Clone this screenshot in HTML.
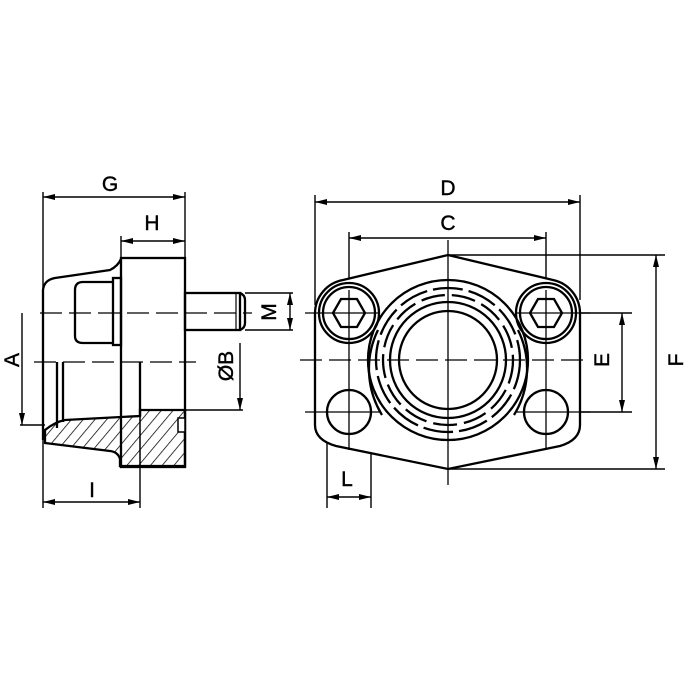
<!DOCTYPE html>
<html><head><style>html,body{margin:0;padding:0;background:#fff}svg{display:block}</style></head><body>
<svg width="700" height="700" viewBox="0 0 700 700" xmlns="http://www.w3.org/2000/svg" font-family="Liberation Sans, sans-serif">
<defs>
<pattern id="h" width="9" height="9" patternUnits="userSpaceOnUse" patternTransform="rotate(40)"><line x1="0" y1="0" x2="0" y2="9" stroke="#000" stroke-width="1.5"/></pattern>
<marker id="a" viewBox="0 0 12 6" refX="12" refY="3" markerWidth="12" markerHeight="6" markerUnits="userSpaceOnUse" orient="auto-start-reverse"><path d="M0,0 L12,3 L0,6 Z" fill="#000"/></marker>
</defs>
<g fill="none" stroke="#000">
<!-- LEFT VIEW -->
<g stroke-width="1.4">
<line x1="43" y1="192" x2="43" y2="508"/>
<line x1="185" y1="192" x2="185" y2="258"/>
<line x1="121" y1="236" x2="121" y2="258"/>
<line x1="43" y1="197" x2="185" y2="197" marker-start="url(#a)" marker-end="url(#a)"/>
<line x1="121" y1="241" x2="185" y2="241" marker-start="url(#a)" marker-end="url(#a)"/>
<line x1="140" y1="410" x2="140" y2="508"/>
<line x1="43" y1="502" x2="140" y2="502" marker-start="url(#a)" marker-end="url(#a)"/>
<line x1="22" y1="313" x2="22" y2="425" marker-end="url(#a)"/>
<line x1="20" y1="425" x2="45" y2="425"/>
<line x1="240" y1="343" x2="240" y2="410" marker-end="url(#a)"/>
<line x1="185" y1="410" x2="243" y2="410"/>
<line x1="245" y1="293" x2="293" y2="293"/>
<line x1="245" y1="330" x2="293" y2="330"/>
<line x1="290" y1="293" x2="290" y2="330" marker-start="url(#a)" marker-end="url(#a)"/>
</g>
<g stroke-width="2.3">
<rect x="121" y="258" width="64" height="209"/>
<path d="M43,440 L43,290 Q44,280 55,278 L110,270 Q118,266 121,259"/>
<path d="M113,282 L83,282 Q75,282 75,290 L75,336 Q75,343 83,343 L113,343"/>
<rect x="113" y="278" width="8" height="67"/>
<rect x="185" y="293" width="55" height="37"/>
<line x1="236" y1="293" x2="236" y2="330" stroke-width="1.2"/>
<path d="M240,293 Q245,295 245,300 L245,323 Q245,328 240,330"/>
<line x1="57" y1="362" x2="57" y2="428"/>
<line x1="63" y1="362" x2="63" y2="422"/>
<line x1="140" y1="362" x2="140" y2="416"/>
<path d="M45,430 Q55,422 65,420 L140,416 L140,410 L185,410 L185,466 L120,466 L120,459 Q118,452 110,451 L45,443 Z" fill="url(#h)"/>
<line x1="140" y1="410" x2="140" y2="466" stroke-width="1.2"/>
<rect x="178" y="418" width="7" height="14" fill="#fff" stroke-width="1.5"/>
</g>
<g stroke-width="1.3" stroke-dasharray="22,7">
<line x1="40" y1="313" x2="252" y2="313"/>
<line x1="34" y1="362" x2="196" y2="362"/>
</g>
<!-- RIGHT VIEW -->
<g stroke-width="1.4">
<line x1="315" y1="195" x2="315" y2="305"/>
<line x1="580" y1="195" x2="580" y2="300"/>
<line x1="315" y1="202" x2="580" y2="202" marker-start="url(#a)" marker-end="url(#a)"/>
<line x1="349" y1="232" x2="349" y2="290"/>
<line x1="546" y1="232" x2="546" y2="290"/>
<line x1="349" y1="238" x2="546" y2="238" marker-start="url(#a)" marker-end="url(#a)"/>
<line x1="448" y1="255" x2="665" y2="255"/>
<line x1="448" y1="469" x2="665" y2="469"/>
<line x1="656" y1="255" x2="656" y2="469" marker-start="url(#a)" marker-end="url(#a)"/>
<line x1="546" y1="313" x2="632" y2="313"/>
<line x1="546" y1="412" x2="632" y2="412"/>
<line x1="622" y1="313" x2="622" y2="412" marker-start="url(#a)" marker-end="url(#a)"/>
<line x1="327" y1="412" x2="327" y2="508"/>
<line x1="371" y1="412" x2="371" y2="508"/>
<line x1="327" y1="497" x2="371" y2="497" marker-start="url(#a)" marker-end="url(#a)"/>
</g>
<g stroke-width="2.3">
<path d="M448,255 L553,280 A34,34 0 0 1 580,313 L580,425 Q580,440 560,446 L448,469 L336,446 Q315,440 315,425 L315,313 A34,34 0 0 1 343,280 Z" fill="#fff"/>
<circle cx="349" cy="313" r="30" fill="#fff"/>
<circle cx="349" cy="313" r="26"/>
<circle cx="546" cy="313" r="30" fill="#fff"/>
<circle cx="546" cy="313" r="26"/>
<polygon points="333,313 341,299 357,299 365,313 357,327 341,327"/>
<polygon points="530,313 538,299 554,299 562,313 554,327 538,327"/>
<circle cx="349" cy="412" r="22"/>
<circle cx="546" cy="412" r="22"/>
<path d="M378,330 A88,88 0 0 0 382,415 M518,330 A88,88 0 0 1 514,415"/>
<circle cx="448" cy="360" r="80"/>
<circle cx="448" cy="360" r="72" stroke-dasharray="30,6"/>
<circle cx="448" cy="360" r="65" stroke-dasharray="24,7"/>
<circle cx="448" cy="360" r="58"/>
<circle cx="448" cy="360" r="49"/>
</g>
<g stroke-width="1.3">
<line x1="349" y1="290" x2="349" y2="450"/>
<line x1="546" y1="290" x2="546" y2="450"/>
<line x1="448" y1="240" x2="448" y2="485"/>
<line x1="305" y1="313" x2="380" y2="313"/>
<line x1="515" y1="313" x2="590" y2="313"/>
<line x1="305" y1="412" x2="380" y2="412"/>
<line x1="515" y1="412" x2="590" y2="412"/>
<line x1="300" y1="360" x2="590" y2="360" stroke-dasharray="22,7"/>
</g>
</g>
<g font-size="21" fill="#000" stroke="#000" stroke-width="0.4" text-anchor="middle">
<text x="110" y="191">G</text>
<text x="152" y="230">H</text>
<text x="92" y="497">I</text>
<text x="347" y="486">L</text>
<text x="448" y="195">D</text>
<text x="448" y="230">C</text>
<text transform="translate(19,360) rotate(-90)">A</text>
<text transform="translate(233,366) rotate(-90)">ØB</text>
<text transform="translate(276,312) rotate(-90)">M</text>
<text transform="translate(609,360) rotate(-90)">E</text>
<text transform="translate(683,360) rotate(-90)">F</text>
</g>
</svg>
</body></html>
